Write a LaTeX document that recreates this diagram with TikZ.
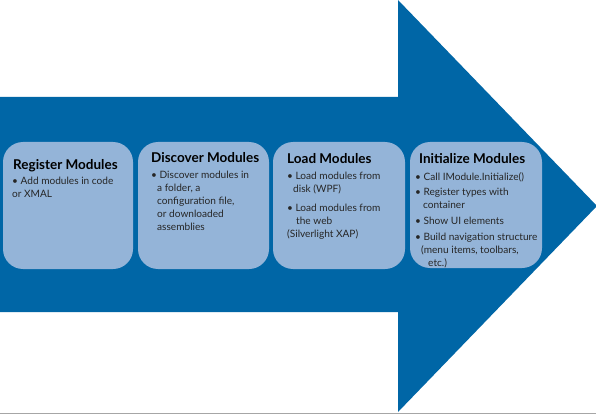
\documentclass[tikz,border=0pt]{standalone}
\usepackage{fontspec}
\setmainfont{Lato}
\definecolor{arrowblue}{RGB}{0,102,166}
\definecolor{boxblue}{RGB}{148,180,216}
\begin{document}
\begin{tikzpicture}[x=1pt,y=-1pt,
  stagebox/.style={fill=boxblue,draw=none,rounded corners=20pt},
  ttl/.style={anchor=base west,inner sep=0pt,font=\fontsize{13.5}{15}\selectfont\bfseries,text=black},
  txt/.style={anchor=base west,inner sep=0pt,font=\fontsize{10.1}{12}\selectfont,text=black!85}]
\useasboundingbox (0,0) rectangle (596,414);
\fill[white] (0,0) rectangle (596,414);
% arrow
\fill[arrowblue] (0,97) -- (398,97) -- (398,0) -- (597,206) -- (398,412) -- (398,312) -- (0,312) -- cycle;
\draw[gray!70,line width=0.8pt] (0,413.5) -- (596,413.5);
% boxes
\fill[stagebox] (3,142) rectangle (133,269);
\fill[stagebox] (138,142) rectangle (269,269);
\fill[stagebox] (273,142) rectangle (405,269);
\fill[stagebox] (410,142) rectangle (542,268);
% box 1
\node[ttl] (t1) at (13,169) {Register Modules};
\node[txt] (a1) at (12,184) {• Add modules in code};
\node[txt] (a2) at (12,197) {or XMAL};
% box 2
\node[ttl] (t2) at (151,162) {Discover Modules};
\node[txt] (b1) at (151,178) {• Discover modules in};
\node[txt] (b2) at (157,191) {a folder, a};
\node[txt] (b3) at (157,204) {configuration file,};
\node[txt] (b4) at (157,217) {or downloaded};
\node[txt] (b5) at (157,230) {assemblies};
% box 3
\node[ttl] (t3) at (287,164) {Load Modules};
\node[txt] (c1) at (287,179) {• Load modules from};
\node[txt] (c2) at (293,192) {disk (WPF)};
\node[txt] (c3) at (287,211) {• Load modules from};
\node[txt] (c4) at (296,224) {the web};
\node[txt] (c5) at (287,237) {(Silverlight XAP)};
% box 4
\node[ttl] (t4) at (419,164) {Initialize Modules};
\node[txt] (d1) at (415,180) {• Call IModule.Initialize()};
\node[txt] (d2) at (415,195) {• Register types with};
\node[txt] (d3) at (423,208) {container};
\node[txt] (d4) at (415,224) {• Show UI elements};
\node[txt] (d5) at (415,240) {• Build navigation structure};
\node[txt] (d6) at (421,253) {(menu items, toolbars,};
\node[txt] (d7) at (428,266) {etc.)};
\end{tikzpicture}
\end{document}
